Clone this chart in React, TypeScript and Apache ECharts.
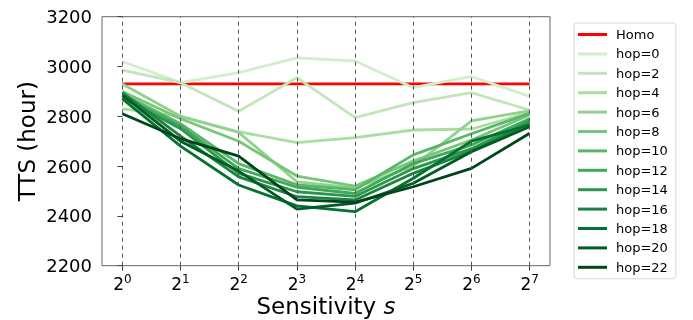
import React, { useEffect, useRef } from "react";
import * as echarts from "echarts";

const exponents = [0, 1, 2, 3, 4, 5, 6, 7];
const yTicks = [2200, 2400, 2600, 2800, 3000, 3200];

const homo = [2930, 2930, 2930, 2930, 2930, 2930, 2930, 2930];
const hop0 = [3020, 2935, 2975, 3035, 3022, 2915, 2960, 2880];
const hop2 = [2985, 2935, 2820, 2955, 2795, 2855, 2895, 2825];
const hop4 = [2830, 2800, 2738, 2694, 2714, 2745, 2749, 2815];
const hop6 = [2930, 2800, 2735, 2537, 2512, 2600, 2782, 2822];
const hop8 = [2900, 2790, 2700, 2560, 2520, 2620, 2705, 2805];
const hop10 = [2890, 2770, 2610, 2525, 2505, 2645, 2730, 2812];
const hop12 = [2880, 2760, 2590, 2515, 2490, 2610, 2685, 2790];
const hop14 = [2875, 2750, 2571, 2497, 2478, 2590, 2670, 2780];
const hop16 = [2895, 2720, 2557, 2477, 2464, 2571, 2660, 2770];
const hop18 = [2870, 2680, 2524, 2440, 2417, 2551, 2700, 2765];
const hop20 = [2885, 2700, 2580, 2427, 2451, 2531, 2658, 2758];
const hop22 = [2810, 2710, 2640, 2464, 2455, 2517, 2591, 2732];

const hopNames = ["hop=0", "hop=2", "hop=4", "hop=6", "hop=8", "hop=10", "hop=12", "hop=14", "hop=16", "hop=18", "hop=20", "hop=22"];
const hopValues = [hop0, hop2, hop4, hop6, hop8, hop10, hop12, hop14, hop16, hop18, hop20, hop22];
const hopColors = ["#d3eecd", "#c0e6b9", "#aadda4", "#91d28e", "#77c679", "#5ab769", "#3ea85b", "#2d954d", "#1a833f", "#067230", "#005c25", "#00441b"];

const FONT = "DejaVu Sans";

export default function App() {
  const ref = useRef<HTMLDivElement>(null);
  useEffect(() => {
    if (!ref.current) return;
    const chart = echarts.init(ref.current, null, { renderer: "svg" });
    const toPts = (vals: number[]) => exponents.map((e, i) => [e, vals[i]]);
    const series: any[] = [
      {
        name: "grid",
        type: "line",
        data: [],
        z: 1,
        silent: true,
        markLine: {
          silent: true,
          symbol: "none",
          label: { show: false },
          lineStyle: { type: [4, 4], color: "#555", width: 1 },
          data: exponents.map((e) => ({ xAxis: e })),
        },
      },
      {
        name: "Homo",
        type: "line",
        data: toPts(homo),
        showSymbol: false,
        lineStyle: { color: "#ff0000", width: 2.8 },
        itemStyle: { color: "#ff0000" },
        z: 2,
      },
      ...hopNames.map((n, i) => ({
        name: n,
        type: "line",
        data: toPts(hopValues[i]),
        showSymbol: false,
        lineStyle: { color: hopColors[i], width: 2.8 },
        itemStyle: { color: hopColors[i] },
        z: 2,
      })),
    ];
    chart.setOption({
      animation: false,
      textStyle: { fontFamily: FONT },
      grid: {
        left: 102,
        right: 143,
        top: 16.7,
        bottom: 54.3,
        show: true,
        borderColor: "#666",
        borderWidth: 1,
        containLabel: false,
        outerBoundsMode: "none",
      },
      legend: {
        orient: "vertical",
        left: 574,
        top: 23,
        data: ["Homo", ...hopNames],
        icon: "rect",
        itemWidth: 29,
        itemHeight: 3,
        itemGap: 6.4,
        padding: [5, 8, 5, 4],
        borderColor: "#d6d6d6",
        borderWidth: 1,
        borderRadius: 3,
        backgroundColor: "#fff",
        textStyle: { fontFamily: FONT, fontSize: 13, color: "#000", padding: [0, 0, 0, 4] },
      },
      xAxis: {
        type: "value",
        min: -0.35,
        max: 7.35,
        name: "Sensitivity {i|s}",
        nameLocation: "middle",
        nameGap: 29,
        nameMoveOverlap: false,
        nameTextStyle: {
          fontFamily: FONT,
          fontSize: 23,
          color: "#000",
          rich: { i: { fontFamily: FONT, fontSize: 23, fontStyle: "italic", color: "#000" } },
        },
        axisLine: { show: false },
        axisTick: {
          show: true,
          customValues: exponents,
          length: 5,
          lineStyle: { color: "#444", width: 1 },
        },
        axisLabel: {
          customValues: exponents,
          margin: 7,
          formatter: (v: number) => "{b|2}{s|" + Math.round(v) + "}",
          rich: {
            b: { fontFamily: FONT, fontSize: 17, color: "#000", lineHeight: 20, verticalAlign: "bottom" },
            s: { fontFamily: FONT, fontSize: 12, color: "#000", lineHeight: 12, verticalAlign: "top" },
          },
        },
        splitLine: { show: false },
      },
      yAxis: {
        type: "value",
        min: yTicks[0],
        max: yTicks[yTicks.length - 1],
        interval: 200,
        name: "TTS (hour)",
        nameLocation: "middle",
        nameGap: 64,
        nameRotate: 90,
        nameMoveOverlap: false,
        nameTextStyle: { fontFamily: FONT, fontSize: 23, color: "#000" },
        axisLine: { show: false },
        axisTick: { show: true, length: 5, lineStyle: { color: "#444", width: 1 } },
        axisLabel: {
          fontFamily: FONT,
          fontSize: 18,
          color: "#000",
          margin: 10,
          formatter: (v: number) => String(v),
        },
        splitLine: { show: false },
      },
      series,
    });
    return () => chart.dispose();
  }, []);
  return <div ref={ref} style={{ position: "fixed", left: 0, top: 0, width: 693, height: 320 }} />;
}
